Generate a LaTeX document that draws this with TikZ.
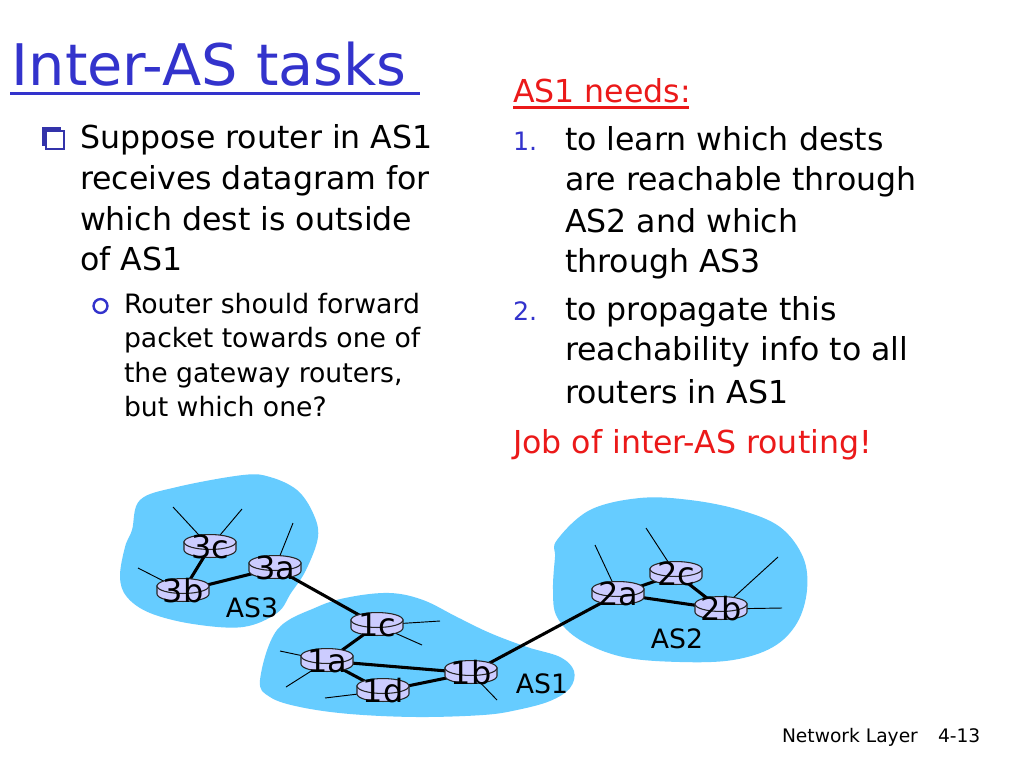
\documentclass[tikz,border=0pt]{standalone}
\usepackage{fontspec}
\setmainfont{DejaVu Sans}
\definecolor{titleblue}{RGB}{51,51,204}
\definecolor{bulletblue}{RGB}{51,51,170}
\definecolor{redtxt}{RGB}{235,25,25}
\definecolor{blobcol}{RGB}{102,204,255}
\definecolor{rfill}{RGB}{204,204,255}
\pgfdeclarelayer{paper}
\pgfdeclarelayer{blobs}
\pgfdeclarelayer{links}
\pgfsetlayers{paper,blobs,links,main}
\tikzset{
  txt/.style={anchor=base west, inner sep=0pt, outer sep=0pt},
  bodyfont/.style={font=\fontsize{23.7pt}{28pt}\selectfont},
  subfont/.style={font=\fontsize{20pt}{24pt}\selectfont},
  numfont/.style={font=\fontsize{19pt}{23pt}\selectfont, text=titleblue},
  titlefont/.style={font=\fontsize{43pt}{50pt}\selectfont, text=titleblue},
  footfont/.style={font=\fontsize{14pt}{17pt}\selectfont},
  aslabel/.style={font=\fontsize{20pt}{24pt}\selectfont, inner sep=0pt},
  routerbody/.style={fill=rfill, draw=black!85, line width=0.8pt},
  routerlabel/.style={font=\fontsize{24pt}{28pt}\selectfont, inner sep=0pt},
  blob/.style={fill=blobcol},
  link/.style={line width=2.3pt, black},
  host/.style={line width=0.7pt, black},
}
\newcommand\routerat[4]{%
  \filldraw[routerbody] (#2-26,#3-4) -- (#2-26,#3+4)
    arc[start angle=180,end angle=360,x radius=19.5pt,y radius=5.6pt]
    -- (#2+26,#3-4) -- cycle;
  \filldraw[routerbody] (#2,#3-4) ellipse[x radius=19.5pt,y radius=5.6pt];
  \node[routerlabel] (#1) at (#2,#3+1) {#4};
}
\begin{document}
\begin{tikzpicture}[x=0.75pt,y=-0.75pt]
\begin{pgfonlayer}{paper}
\fill[white] (0,0) rectangle (1024,768);
\end{pgfonlayer}
\useasboundingbox (0,0) rectangle (1024,768);

% ---- title
\node[txt,titlefont] (title) at (12,85) {Inter-AS tasks};
\fill[titleblue] (10,91.5) rectangle (420,95);

% ---- left column
\fill[bulletblue] (42,127) rectangle (61,146);
\filldraw[fill=white, draw=bulletblue, line width=0.8pt] (46,131) rectangle (64,149);
\node[txt,bodyfont] (l1) at (80,148) {Suppose router in AS1};
\node[txt,bodyfont] (l2) at (80,189) {receives datagram for};
\node[txt,bodyfont] (l3) at (80,230) {which dest is outside};
\node[txt,bodyfont] (l4) at (80,270) {of AS1};
\draw[titleblue, line width=1.8pt] (100.5,306) circle[radius=5.2pt];
\node[txt,subfont] (s1) at (124,313) {Router should forward};
\node[txt,subfont] (s2) at (124,347) {packet towards one of};
\node[txt,subfont] (s3) at (124,382) {the gateway routers,};
\node[txt,subfont] (s4) at (124,416) {but which one?};

% ---- right column
\node[txt,bodyfont,text=redtxt] (needs) at (513,102) {AS1 needs:};
\fill[redtxt] (513,106) rectangle (689,108.5);
\node[txt,numfont] (n1) at (513,150) {1.};
\node[txt,bodyfont] (r1) at (565,150) {to learn which dests};
\node[txt,bodyfont] (r2) at (565,190) {are reachable through};
\node[txt,bodyfont] (r3) at (565,232) {AS2 and which};
\node[txt,bodyfont] (r4) at (565,272) {through AS3};
\node[txt,numfont] (n2) at (513,320) {2.};
\node[txt,bodyfont] (r5) at (565,320) {to propagate this};
\node[txt,bodyfont] (r6) at (565,360) {reachability info to all};
\node[txt,bodyfont] (r7) at (565,403) {routers in AS1};
\node[txt,bodyfont,text=redtxt] (job) at (513,453) {Job of inter-AS routing!};

% ---- footer
\node[txt,footfont] (foot1) at (782,742) {Network Layer};
\node[txt,footfont] (foot2) at (938,742) {4-13};

% ---- AS blobs
\begin{pgfonlayer}{blobs}
\fill[blob] plot[smooth cycle, tension=0.6] coordinates {
 (140,500) (177,487) (243,475) (270,477) (297,490) (313,513) (318,537)
 (306,570) (291,593) (277,613) (243,627) (193,624) (150,613) (127,597)
 (120,577) (125,547) (132,530)};
\fill[blob] plot[smooth cycle, tension=0.6] coordinates {
 (277,630) (317,607) (350,597) (390,593) (423,600) (457,617) (490,633)
 (527,647) (560,657) (574,671) (570,688) (550,701) (517,710) (483,715)
 (417,717) (350,714) (300,707) (270,697) (260,680)};
\fill[blob] plot[smooth cycle, tension=0.6] coordinates {
 (557,540) (590,510) (640,498) (690,500) (740,510) (780,527) (803,557)
 (807,590) (797,623) (773,647) (733,660) (680,662) (623,657) (580,640)
 (557,617) (553,590) (555,557)};
\end{pgfonlayer}

% ---- routers
\routerat{r3c}{210}{546}{3c}
\routerat{r3b}{183}{590}{3b}
\routerat{r3a}{275}{567}{3a}
\routerat{r1c}{377}{624}{1c}
\routerat{r1a}{327}{660}{1a}
\routerat{r1d}{383}{690}{1d}
\routerat{r1b}{471}{672}{1b}
\routerat{r2c}{676}{573}{2c}
\routerat{r2a}{618}{593}{2a}
\routerat{r2b}{721}{608}{2b}

% ---- AS labels
\node[aslabel] (as3) at (252,608) {AS3};
\node[aslabel] (as1) at (542,684) {AS1};
\node[aslabel] (as2) at (677,639) {AS2};

% ---- host line ends
\coordinate (h3c1) at (173,507);
\coordinate (h3c2) at (242,509);
\coordinate (h3b) at (138,568);
\coordinate (h3a) at (293,523);
\coordinate (h1c1) at (440,621);
\coordinate (h1c2) at (422,645);
\coordinate (h1a1) at (280,651);
\coordinate (h1a2) at (286,687);
\coordinate (h1d) at (325,698);
\coordinate (h1b) at (497,700);
\coordinate (h2a) at (595,545);
\coordinate (h2c) at (646,528);
\coordinate (h2b1) at (778,557);
\coordinate (h2b2) at (782,608);

\begin{pgfonlayer}{links}
\draw[host] (r3c.center) -- (h3c1);
\draw[host] (r3c.center) -- (h3c2);
\draw[host] (r3b.center) -- (h3b);
\draw[host] (r3a.center) -- (h3a);
\draw[host] (r1c.center) -- (h1c1);
\draw[host] (r1c.center) -- (h1c2);
\draw[host] (r1a.center) -- (h1a1);
\draw[host] (r1a.center) -- (h1a2);
\draw[host] (r1d.center) -- (h1d);
\draw[host] (r1b.center) -- (h1b);
\draw[host] (r2a.center) -- (h2a);
\draw[host] (r2c.center) -- (h2c);
\draw[host] (r2b.center) -- (h2b1);
\draw[host] (r2b.center) -- (h2b2);
\draw[link] (r3c.center) -- (r3b.center);
\draw[link] (r3b.center) -- (r3a.center);
\draw[link] (r3a.center) -- (r1c.center);
\draw[link] (r1c.center) -- (r1a.center);
\draw[link] (r1a.center) -- (r1b.center);
\draw[link] (r1a.center) -- (r1d.center);
\draw[link] (r1d.center) -- (r1b.center);
\draw[link] (r1b.center) -- (r2a.center);
\draw[link] (r2a.center) -- (r2c.center);
\draw[link] (r2a.center) -- (r2b.center);
\draw[link] (r2c.center) -- (r2b.center);
\end{pgfonlayer}
\end{tikzpicture}
\end{document}
